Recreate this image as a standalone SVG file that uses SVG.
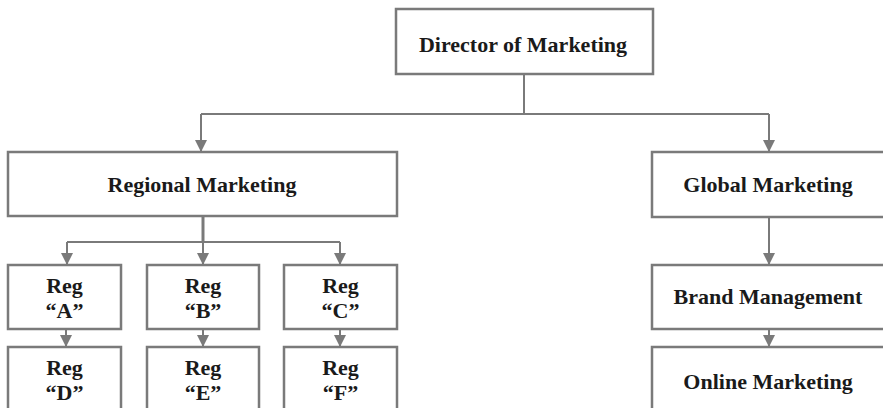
<svg xmlns="http://www.w3.org/2000/svg" width="883" height="408" viewBox="0 0 883 408">
<style>
.box{fill:#fff;stroke:#7a7a7a;stroke-width:2.5}
.t{font-family:"Liberation Serif","Times New Roman",serif;font-weight:bold;font-size:22px;fill:#1a1a1a;text-anchor:middle}
.c{fill:none;stroke:#7a7a7a;stroke-width:2}
</style>
<defs>
<marker id="down" markerUnits="userSpaceOnUse" markerWidth="14" markerHeight="13" refX="7" refY="12" orient="0" viewBox="0 0 14 13">
<path d="M1,0 L13,0 L7,12 Z" fill="#7a7a7a"/>
</marker>
</defs>
<rect width="883" height="408" fill="#fff"/>
<g id="connectors">
<path class="c" d="M524,74 V114"/>
<path class="c" d="M201,114 H769"/>
<path class="c" d="M201,114 V152" marker-end="url(#down)"/>
<path class="c" d="M769,114 V152" marker-end="url(#down)"/>
<path class="c" d="M203,216 V242" style="stroke-width:3"/>
<path class="c" d="M67,242 H340"/>
<path class="c" d="M67,242 V265" marker-end="url(#down)"/>
<path class="c" d="M203,242 V265" marker-end="url(#down)"/>
<path class="c" d="M340,242 V265" marker-end="url(#down)"/>
<path class="c" d="M66,329 V347" marker-end="url(#down)"/>
<path class="c" d="M203,329 V347" marker-end="url(#down)"/>
<path class="c" d="M340,329 V347" marker-end="url(#down)"/>
<path class="c" d="M769,217 V265" marker-end="url(#down)"/>
<path class="c" d="M769,329 V347" marker-end="url(#down)"/>
</g>
<g id="director">
<rect class="box" x="396" y="9" width="257" height="65"/>
<text class="t" x="523" y="52">Director of Marketing</text>
</g>
<g id="regional">
<rect class="box" x="8" y="152" width="389" height="64"/>
<text class="t" x="202" y="192">Regional Marketing</text>
</g>
<g id="global">
<rect class="box" x="652" y="152" width="245" height="65"/>
<text class="t" x="768" y="192">Global Marketing</text>
</g>
<g id="regA">
<rect class="box" x="8" y="265" width="113" height="64"/>
<text class="t" x="64.5" y="293">Reg</text>
<text class="t" x="64.5" y="318">“A”</text>
</g>
<g id="regB">
<rect class="box" x="147" y="265" width="112" height="64"/>
<text class="t" x="203" y="293">Reg</text>
<text class="t" x="203" y="318">“B”</text>
</g>
<g id="regC">
<rect class="box" x="284" y="265" width="113" height="64"/>
<text class="t" x="340.5" y="293">Reg</text>
<text class="t" x="340.5" y="318">“C”</text>
</g>
<g id="regD">
<rect class="box" x="8" y="347" width="113" height="70"/>
<text class="t" x="64.5" y="375">Reg</text>
<text class="t" x="64.5" y="400">“D”</text>
</g>
<g id="regE">
<rect class="box" x="147" y="347" width="112" height="70"/>
<text class="t" x="203" y="375">Reg</text>
<text class="t" x="203" y="400">“E”</text>
</g>
<g id="regF">
<rect class="box" x="284" y="347" width="113" height="70"/>
<text class="t" x="340.5" y="375">Reg</text>
<text class="t" x="340.5" y="400">“F”</text>
</g>
<g id="brand">
<rect class="box" x="652" y="265" width="245" height="64"/>
<text class="t" x="768" y="304">Brand Management</text>
</g>
<g id="online">
<rect class="box" x="652" y="347" width="245" height="70"/>
<text class="t" x="768" y="389">Online Marketing</text>
</g>
</svg>
